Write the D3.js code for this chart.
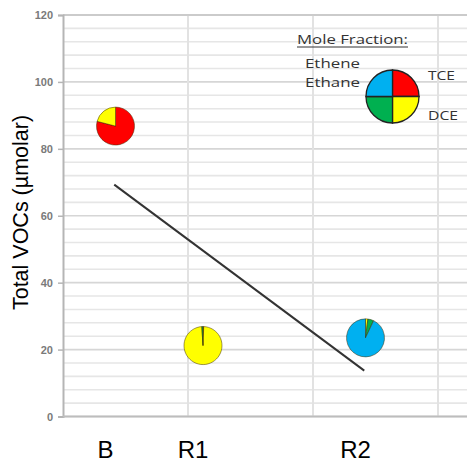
<!DOCTYPE html>
<html>
<head>
<meta charset="utf-8">
<script src="https://cdn.jsdelivr.net/npm/d3@7"></script>
<style>
  html, body { margin: 0; padding: 0; background: #fff; }
  svg { display: block; }
</style>
</head>
<body>
<svg id="chart" width="467" height="464"></svg>
<script>
// Sample locations and their positions along the transect
const categories = ["B", "R1", "R2"];
const samplePos = [0.42, 1.12, 2.42];
// Total VOC concentration at each location (µmolar)
const totalVOCs = [86.8, 21.2, 23.5];
// Mole fractions (%) of each compound at each location
const tce    = [79, 0.6, 0];
const dce    = [21, 98.4, 2];
const ethane = [0, 1.0, 5];
const ethene = [0, 0, 93];
// Trend line end points
const trendPos = [0.41, 2.41];
const trendVal = [69.3, 13.7];
// Axis ticks
const yTicks = [0, 20, 40, 60, 80, 100, 120];
const yMinorStep = 4;
const xGrid = [1, 2, 3];

const compounds = ["TCE", "DCE", "Ethane", "Ethene"];
const colors = { TCE: "#ff0000", DCE: "#ffff00", Ethane: "#00b050", Ethene: "#00b0f0" };

const svg = d3.select("#chart");
const plotLeft = 63, plotRight = 467, plotTop = 15, plotBottom = 416.5;

const x = d3.scaleLinear().domain([0, 3.232]).range([plotLeft, plotRight]);
const y = d3.scaleLinear().domain([0, 120]).range([plotBottom, plotTop]);

// Minor horizontal grid
const minor = d3.range(0, 121, yMinorStep);
svg.append("g").selectAll("line").data(minor).join("line")
  .attr("x1", plotLeft).attr("x2", plotRight)
  .attr("y1", d => y(d)).attr("y2", d => y(d))
  .attr("stroke", d => d % 20 === 0 ? "#d6d6d6" : "#e6e6e6")
  .attr("stroke-width", 1.6);

// Vertical grid
svg.append("g").selectAll("line").data(xGrid).join("line")
  .attr("x1", d => x(d)).attr("x2", d => x(d))
  .attr("y1", plotTop).attr("y2", plotBottom)
  .attr("stroke", "#e2e2e2").attr("stroke-width", 2);

// Top border
svg.append("line").attr("x1", plotLeft).attr("x2", plotRight)
  .attr("y1", y(120)).attr("y2", y(120))
  .attr("stroke", "#c4c4c4").attr("stroke-width", 1.5);

// Y axis
const yAxis = d3.axisLeft(y).tickValues(yTicks).tickSize(5).tickPadding(5);
const gy = svg.append("g").attr("transform", `translate(${plotLeft},0)`).call(yAxis);
gy.select(".domain").attr("stroke", "#b5b5b5").attr("stroke-width", 2);
gy.selectAll(".tick line").attr("stroke", "#b5b5b5").attr("stroke-width", 1.5);
gy.selectAll(".tick text")
  .attr("font-family", "Liberation Sans, Arial, sans-serif")
  .attr("font-size", 11).attr("font-weight", "bold").attr("fill", "#7a7a7a");

// X axis baseline
svg.append("line").attr("x1", plotLeft).attr("x2", plotRight)
  .attr("y1", plotBottom).attr("y2", plotBottom)
  .attr("stroke", "#bdbdbd").attr("stroke-width", 2);

// Category labels
svg.append("g").selectAll("text").data(categories).join("text")
  .attr("x", (d, i) => x(samplePos[i]) - 10)
  .attr("y", 458)
  .attr("text-anchor", "middle")
  .attr("font-family", "Liberation Sans, Arial, sans-serif")
  .attr("font-size", 24).attr("fill", "#000")
  .text(d => d);

// Y axis title
svg.append("text")
  .attr("transform", "translate(28,212.5) rotate(-90)")
  .attr("text-anchor", "middle")
  .attr("font-family", "Liberation Sans, Arial, sans-serif")
  .attr("font-size", 21.5).attr("fill", "#000")
  .text("Total VOCs (µmolar)");

// Trend line
svg.append("line")
  .attr("x1", x(trendPos[0])).attr("y1", y(trendVal[0]))
  .attr("x2", x(trendPos[1])).attr("y2", y(trendVal[1]))
  .attr("stroke", "#333").attr("stroke-width", 2);

// Pie markers
const pie = d3.pie().sort(null).value(d => d.v);
const arc = d3.arc().innerRadius(0).outerRadius(19);
const series = { TCE: tce, DCE: dce, Ethane: ethane, Ethene: ethene };

categories.forEach((c, i) => {
  const parts = compounds.map(k => ({ k, v: series[k][i] }));
  const g = svg.append("g")
    .attr("transform", `translate(${x(samplePos[i])},${y(totalVOCs[i])})`);
  g.selectAll("path").data(pie(parts).filter(d => d.data.v > 0)).join("path")
    .attr("d", arc)
    .attr("fill", d => colors[d.data.k])
    .attr("stroke", "rgba(60,40,0,0.55)").attr("stroke-width", 0.9);
});

// Legend
const lg = svg.append("g");
lg.append("text").attr("x", 297).attr("y", 44)
  .attr("font-family", "Open Sans, sans-serif").attr("font-size", 13.5)
  .attr("fill", "#333").attr("textLength", 111).attr("lengthAdjust", "spacingAndGlyphs")
  .text("Mole Fraction:");
lg.append("line").attr("x1", 297).attr("x2", 408).attr("y1", 47).attr("y2", 47)
  .attr("stroke", "#333").attr("stroke-width", 1);

const legendPie = d3.pie().sort(null).value(1);
const legendArc = d3.arc().innerRadius(0).outerRadius(26.5);
lg.append("g").attr("transform", "translate(392.5,96.5)")
  .selectAll("path").data(legendPie(compounds)).join("path")
  .attr("d", legendArc)
  .attr("fill", d => colors[d.data])
  .attr("stroke", "#222").attr("stroke-width", 1.3);

const legendText = [
  { t: "Ethene", x: 305, y: 68, w: 55 },
  { t: "Ethane", x: 305, y: 87, w: 55 },
  { t: "TCE", x: 428, y: 80, w: 27 },
  { t: "DCE", x: 428, y: 120, w: 30 }
];
lg.selectAll("text.lbl").data(legendText).join("text").attr("class", "lbl")
  .attr("x", d => d.x).attr("y", d => d.y)
  .attr("font-family", "Open Sans, sans-serif").attr("font-size", 13)
  .attr("fill", "#333")
  .attr("textLength", d => d.w).attr("lengthAdjust", "spacingAndGlyphs")
  .text(d => d.t);
</script>
</body>
</html>
